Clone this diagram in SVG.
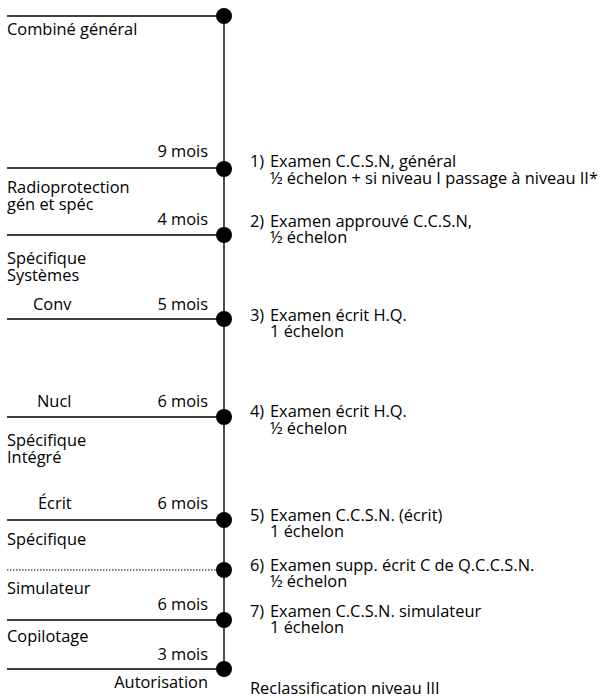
<svg xmlns="http://www.w3.org/2000/svg" width="606" height="698" viewBox="0 0 606 698">
<style>
text{font-family:"Open Sans","Liberation Sans",sans-serif;font-size:16.4px;fill:#000}
.r{text-anchor:end}
.h{stroke:#000;stroke-width:1.4;fill:none}
.d{stroke:#000;stroke-width:1.2;stroke-dasharray:1.5 1.5;fill:none}
.dot{fill:#000}
</style>
<rect width="606" height="698" fill="#fff"/>
<g id="connectors">
<line class="h" x1="224" y1="16" x2="224" y2="669"/>
</g>
<g id="n0">
<line class="h" x1="7" y1="16" x2="224" y2="16"/>
<circle class="dot" cx="224" cy="16" r="8"/>
<text x="7" y="35">Combiné général</text>
</g>
<g id="n1">
<line class="h" x1="7" y1="168" x2="224" y2="168"/>
<circle class="dot" cx="224" cy="169" r="8"/>
<text class="r" x="208" y="157">9 mois</text>
<text x="7" y="193">Radioprotection</text>
<text x="7" y="210">gén et spéc</text>
<text x="250" y="167">1)</text>
<text x="270" y="167">Examen C.C.S.N, général</text>
<text x="270" y="184">½ échelon + si niveau I passage à niveau II*</text>
</g>
<g id="n2">
<line class="h" x1="7" y1="235" x2="224" y2="235"/>
<circle class="dot" cx="224" cy="235" r="8"/>
<text class="r" x="208" y="225">4 mois</text>
<text x="7" y="264">Spécifique</text>
<text x="7" y="281">Systèmes</text>
<text x="250" y="227">2)</text>
<text x="270" y="227">Examen approuvé C.C.S.N,</text>
<text x="270" y="243">½ échelon</text>
</g>
<g id="n3">
<line class="h" x1="7" y1="319" x2="224" y2="319"/>
<circle class="dot" cx="224" cy="319" r="8"/>
<text x="33" y="310">Conv</text>
<text class="r" x="208" y="310">5 mois</text>
<text x="250" y="321">3)</text>
<text x="270" y="321">Examen écrit H.Q.</text>
<text x="270" y="337">1 échelon</text>
</g>
<g id="n4">
<line class="h" x1="7" y1="417" x2="224" y2="417"/>
<circle class="dot" cx="224" cy="417" r="8"/>
<text x="37" y="407">Nucl</text>
<text class="r" x="208" y="407">6 mois</text>
<text x="7" y="446">Spécifique</text>
<text x="7" y="463">Intégré</text>
<text x="250" y="417">4)</text>
<text x="270" y="417">Examen écrit H.Q.</text>
<text x="270" y="434">½ échelon</text>
</g>
<g id="n5">
<line class="h" x1="7" y1="520" x2="224" y2="520"/>
<circle class="dot" cx="224" cy="520" r="8"/>
<text x="38" y="509">Écrit</text>
<text class="r" x="208" y="509">6 mois</text>
<text x="7" y="545">Spécifique</text>
<text x="250" y="521">5)</text>
<text x="270" y="521">Examen C.C.S.N. (écrit)</text>
<text x="270" y="537">1 échelon</text>
</g>
<g id="n6">
<line class="d" x1="7" y1="570" x2="224" y2="570"/>
<circle class="dot" cx="224" cy="570" r="8"/>
<text x="7" y="594">Simulateur</text>
<text x="250" y="571">6)</text>
<text x="270" y="571">Examen supp. écrit C de Q.C.C.S.N.</text>
<text x="270" y="587">½ échelon</text>
</g>
<g id="n7">
<line class="h" x1="7" y1="620" x2="224" y2="620"/>
<circle class="dot" cx="224" cy="620" r="8"/>
<text class="r" x="208" y="610">6 mois</text>
<text x="7" y="642">Copilotage</text>
<text x="250" y="617">7)</text>
<text x="270" y="617">Examen C.C.S.N. simulateur</text>
<text x="270" y="633">1 échelon</text>
</g>
<g id="n8">
<line class="h" x1="7" y1="669" x2="224" y2="669"/>
<circle class="dot" cx="224" cy="669" r="8"/>
<text class="r" x="208" y="660">3 mois</text>
<text class="r" x="208" y="688">Autorisation</text>
<text x="250" y="694">Reclassification niveau III</text>
</g>
</svg>
